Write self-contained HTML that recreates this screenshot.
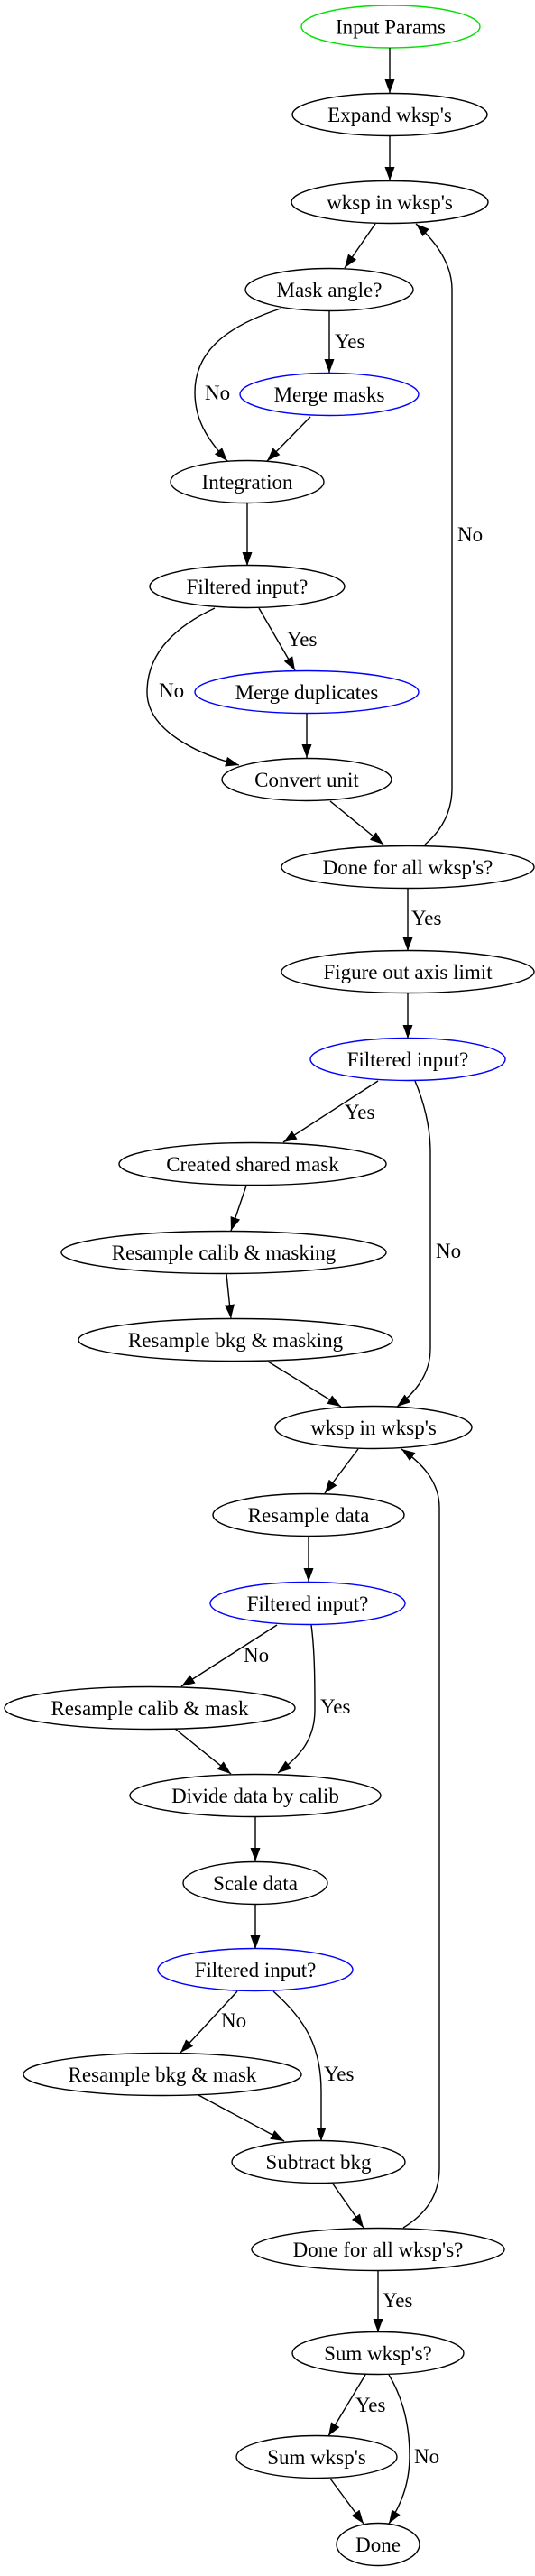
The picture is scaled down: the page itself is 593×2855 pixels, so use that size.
<!DOCTYPE html>
<html><head><meta charset="utf-8"><style>
html,body{margin:0;padding:0;background:#fff;}
svg{display:block;}
text{font-family:"Liberation Serif",serif;font-size:23px;fill:#000;}
</style></head><body>
<svg width="593" height="2855" viewBox="0 0 593 2855" xmlns="http://www.w3.org/2000/svg">
<defs>
<marker id="a" markerUnits="userSpaceOnUse" markerWidth="16" markerHeight="12" refX="15" refY="5.5" orient="auto">
<path d="M0,0 L15,5.5 L0,11 z" fill="#000"/>
</marker>
</defs>
<g fill="none" stroke="#000" stroke-width="1.4">
<ellipse cx="433" cy="29.5" rx="99" ry="23.5" stroke="#00e000"/>
<ellipse cx="432" cy="127" rx="108" ry="23.5"/>
<ellipse cx="432" cy="224" rx="109" ry="23.5"/>
<ellipse cx="365" cy="321" rx="93" ry="23.5"/>
<ellipse cx="365" cy="437" rx="99" ry="23.5" stroke="#0000ff"/>
<ellipse cx="274" cy="534" rx="85" ry="23.5"/>
<ellipse cx="274" cy="650" rx="108" ry="23.5"/>
<ellipse cx="340" cy="767" rx="124" ry="23.5" stroke="#0000ff"/>
<ellipse cx="340" cy="864" rx="94" ry="23.5"/>
<ellipse cx="452" cy="961" rx="140" ry="23.5"/>
<ellipse cx="452" cy="1077" rx="140" ry="23.5"/>
<ellipse cx="452" cy="1174" rx="108" ry="23.5" stroke="#0000ff"/>
<ellipse cx="280" cy="1290" rx="148" ry="23.5"/>
<ellipse cx="248" cy="1388" rx="180" ry="23.5"/>
<ellipse cx="261" cy="1485" rx="174" ry="23.5"/>
<ellipse cx="414" cy="1582" rx="109" ry="23.5"/>
<ellipse cx="342" cy="1679" rx="106" ry="23.5"/>
<ellipse cx="341" cy="1777" rx="108" ry="23.5" stroke="#0000ff"/>
<ellipse cx="166" cy="1893" rx="161" ry="23.5"/>
<ellipse cx="283" cy="1990" rx="139" ry="23.5"/>
<ellipse cx="283" cy="2087" rx="80" ry="23.5"/>
<ellipse cx="283" cy="2183" rx="108" ry="23.5" stroke="#0000ff"/>
<ellipse cx="180" cy="2299" rx="154" ry="23.5"/>
<ellipse cx="353" cy="2396" rx="96" ry="23.5"/>
<ellipse cx="419" cy="2493" rx="140" ry="23.5"/>
<ellipse cx="419" cy="2608" rx="95" ry="23.5"/>
<ellipse cx="351" cy="2723" rx="89" ry="23.5"/>
<ellipse cx="419" cy="2820" rx="46" ry="23.5"/>
</g>
<g fill="none" stroke="#000" stroke-width="1.4" marker-end="url(#a)">
<path d="M432,53 L432,103"/>
<path d="M432,150 L432,200"/>
<path d="M416,248 L382,297"/>
<path d="M365,345 L365,413"/>
<path d="M311,342 C250,362 216,390 216,435 C216,470 235,492 252,511"/>
<path d="M344,462 L296,511"/>
<path d="M274,558 L274,627"/>
<path d="M287,674 L327,743"/>
<path d="M238,674 C200,692 163,720 163,767 C163,810 220,836 265,848"/>
<path d="M340,791 L340,840"/>
<path d="M366,888 L425,936"/>
<path d="M471,936 C490,920 501,900 501,873 L501,321 C501,290 480,265 461,248"/>
<path d="M452,985 L452,1054"/>
<path d="M452,1101 L452,1151"/>
<path d="M419,1198 L314,1266"/>
<path d="M460,1198 C470,1222 477,1250 477,1277 L477,1495 C477,1525 458,1545 440,1559"/>
<path d="M273,1314 L256,1364"/>
<path d="M251,1412 L256,1461"/>
<path d="M297,1509 L378,1559"/>
<path d="M397,1606 L360,1655"/>
<path d="M342,1703 L342,1753"/>
<path d="M307,1801 L201,1869"/>
<path d="M345,1801 C349,1830 349,1870 349,1895 C349,1930 330,1948 308,1965"/>
<path d="M194,1916 L256,1966"/>
<path d="M447,2469 C470,2455 487,2435 487,2403 L487,1671 C487,1640 465,1620 445,1606"/>
<path d="M283,2013 L283,2063"/>
<path d="M283,2110 L283,2160"/>
<path d="M263,2207 L200,2275"/>
<path d="M303,2207 C340,2240 356,2270 356,2318 L356,2373"/>
<path d="M220,2322 L315,2373"/>
<path d="M368,2419 L403,2469"/>
<path d="M419,2516 L419,2585"/>
<path d="M405,2632 L364,2700"/>
<path d="M431,2632 C448,2660 454,2690 454,2722 C454,2755 443,2778 431,2797"/>
<path d="M366,2747 L403,2797"/>
</g>
<g text-anchor="middle">
<text x="433" y="37.5">Input Params</text>
<text x="432" y="135">Expand wksp's</text>
<text x="432" y="232">wksp in wksp's</text>
<text x="365" y="329">Mask angle?</text>
<text x="365" y="445">Merge masks</text>
<text x="274" y="542">Integration</text>
<text x="274" y="658">Filtered input?</text>
<text x="340" y="775">Merge duplicates</text>
<text x="340" y="872">Convert unit</text>
<text x="452" y="969">Done for all wksp's?</text>
<text x="452" y="1085">Figure out axis limit</text>
<text x="452" y="1182">Filtered input?</text>
<text x="280" y="1298">Created shared mask</text>
<text x="248" y="1396">Resample calib &amp; masking</text>
<text x="261" y="1493">Resample bkg &amp; masking</text>
<text x="414" y="1590">wksp in wksp's</text>
<text x="342" y="1687">Resample data</text>
<text x="341" y="1785">Filtered input?</text>
<text x="166" y="1901">Resample calib &amp; mask</text>
<text x="283" y="1998">Divide data by calib</text>
<text x="283" y="2095">Scale data</text>
<text x="283" y="2191">Filtered input?</text>
<text x="180" y="2307">Resample bkg &amp; mask</text>
<text x="353" y="2404">Subtract bkg</text>
<text x="419" y="2501">Done for all wksp's?</text>
<text x="419" y="2616">Sum wksp's?</text>
<text x="351" y="2731">Sum wksp's</text>
<text x="419" y="2828">Done</text>
</g>
<g>
<text x="371" y="386">Yes</text>
<text x="227" y="443">No</text>
<text x="318" y="716">Yes</text>
<text x="176" y="773">No</text>
<text x="507" y="600">No</text>
<text x="456" y="1025">Yes</text>
<text x="382" y="1240">Yes</text>
<text x="483" y="1394">No</text>
<text x="270" y="1842">No</text>
<text x="355" y="1899">Yes</text>
<text x="245" y="2247">No</text>
<text x="359" y="2306">Yes</text>
<text x="424" y="2557">Yes</text>
<text x="394" y="2673">Yes</text>
<text x="459" y="2730">No</text>
</g>
</svg>
</body></html>
